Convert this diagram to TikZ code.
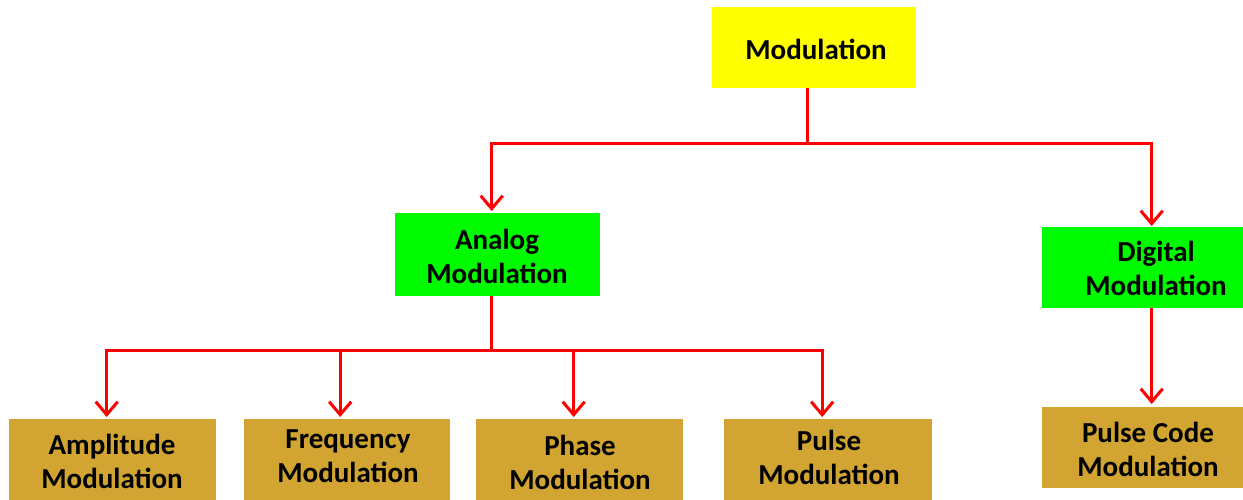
\documentclass[tikz,border=0pt]{standalone}
\usepackage{fontspec}
\setmainfont{Carlito}
\usetikzlibrary{arrows.meta}
\definecolor{boxyellow}{RGB}{255,255,0}
\definecolor{boxgreen}{RGB}{0,250,0}
\definecolor{boxgold}{RGB}{210,165,50}
\definecolor{linered}{RGB}{255,0,0}
\tikzset{
  boxtext/.style={inner sep=0pt, align=center, font=\fontsize{29}{34}\selectfont\bfseries, text=black},
  shape box/.style={rectangle, inner sep=0pt, anchor=north west},
  topbox/.style={shape box, fill=boxyellow},
  midbox/.style={shape box, fill=boxgreen},
  leafbox/.style={shape box, fill=boxgold},
  conn/.style={draw=linered, line width=3pt},
  arr/.style={conn, -{Straight Barb[length=13pt, width=22pt, line width=3pt]}}
}
\begin{document}
\begin{tikzpicture}[x=1pt,y=1pt]
\useasboundingbox (0,0) rectangle (1243,-499);
\clip (0,0) rectangle (1243,-499);
% boxes
\node[topbox, minimum width=204pt, minimum height=81pt] (mod) at (712,-7) {};
\node[midbox, minimum width=205pt, minimum height=83pt] (ana) at (395,-213) {};
\node[midbox, minimum width=205pt, minimum height=81pt] (dig) at (1042,-227) {};
\node[leafbox, minimum width=207pt, minimum height=95pt] (amp) at (9,-419) {};
\node[leafbox, minimum width=206pt, minimum height=95pt] (fre) at (244,-419) {};
\node[leafbox, minimum width=207pt, minimum height=95pt] (pha) at (476,-419) {};
\node[leafbox, minimum width=208pt, minimum height=95pt] (pul) at (724,-419) {};
\node[leafbox, minimum width=205pt, minimum height=81pt] (pcm) at (1042,-407) {};
% texts
\node[boxtext] (modt) at (816,-49) {Modulation};
\node[boxtext] (anat) at (497,-256) {Analog\\Modulation};
\node[boxtext] (digt) at (1156,-268) {Digital\\Modulation};
\node[boxtext] (ampt) at (112,-461) {Amplitude\\Modulation};
\node[boxtext] (fret) at (348,-456) {Frequency\\Modulation};
\node[boxtext] (phat) at (580,-462) {Phase\\Modulation};
\node[boxtext] (pult) at (829,-457) {Pulse\\Modulation};
\node[boxtext] (pcmt) at (1148,-449) {Pulse Code\\Modulation};
% top level
\draw[conn] ([xshift=-7pt]mod.south) -- ++(0,-55) coordinate (j1);
\draw[arr] (j1) -| ([xshift=-6pt, yshift=2pt]ana.north);
\draw[arr] (j1) -| ([xshift=7pt, yshift=1pt]dig.north);
% analog branch
\draw[conn] ([xshift=-6pt]ana.south) -- ++(0,-54) coordinate (j2);
\draw[arr] (j2) -| ([xshift=-6pt, yshift=2pt]amp.north);
\draw[arr] (j2) -| ([xshift=-7pt, yshift=2pt]fre.north);
\draw[arr] (j2) -| ([xshift=-6pt, yshift=2pt]pha.north);
\draw[arr] (j2) -| ([xshift=-6pt, yshift=2pt]pul.north);
% digital branch
\draw[arr] ([xshift=7pt]dig.south) -- ([xshift=7pt, yshift=3pt]pcm.north);
\end{tikzpicture}
\end{document}
